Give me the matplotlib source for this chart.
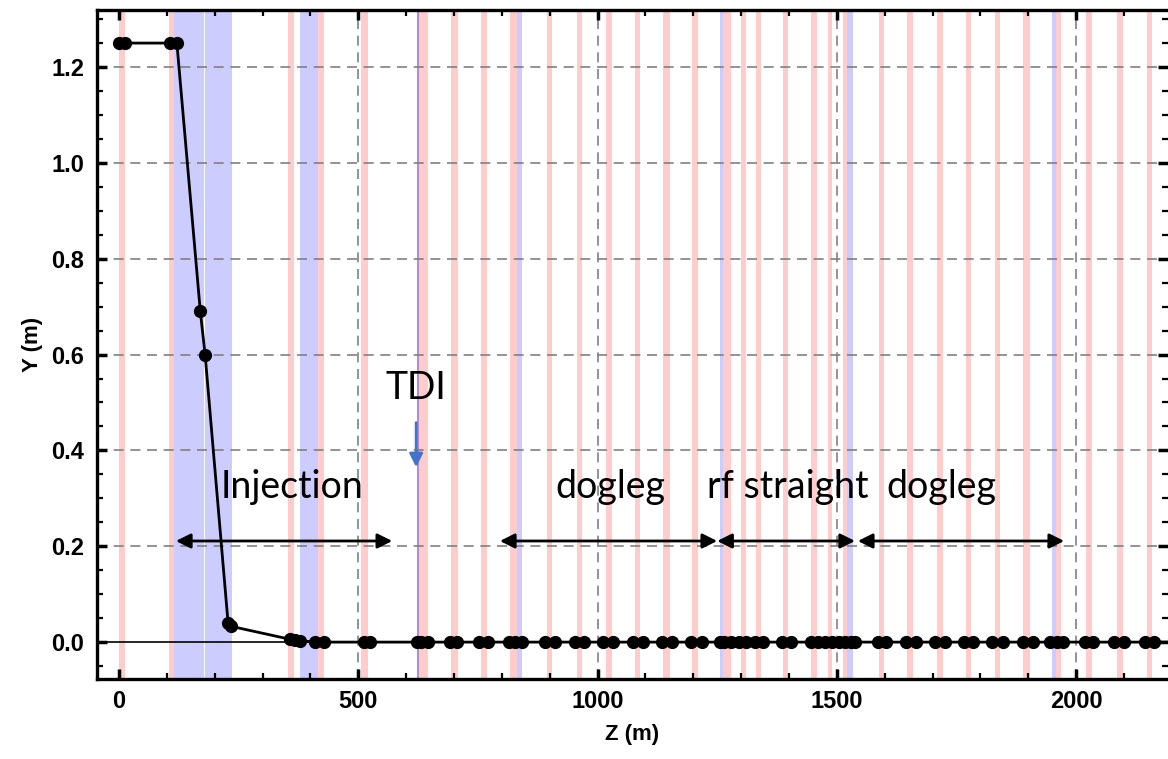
import numpy as np
import matplotlib
matplotlib.use("Agg")
import matplotlib.pyplot as plt
from matplotlib.ticker import MultipleLocator

# beam trajectory: Z (m) and Y (m) of the tracked points
z_pts = [0, 12, 107, 121, 170, 180, 228, 234, 357, 368, 378,
         410, 428, 512, 525, 622, 632, 645, 692, 706, 752, 772,
         815, 828, 842, 890, 912, 952, 972, 1012, 1032, 1075, 1095,
         1135, 1155, 1195, 1218, 1255, 1265, 1278, 1295, 1310,
         1330, 1345, 1385, 1405, 1445, 1460, 1475, 1490, 1505, 1518,
         1530, 1538, 1585, 1602, 1645, 1665, 1705, 1725, 1765, 1785,
         1825, 1848, 1888, 1910, 1945, 1960, 1973, 2018, 2036,
         2080, 2100, 2143, 2163, 2205, 2225]
y_pts = [1.25, 1.25, 1.25, 1.25, 0.69, 0.60, 0.04, 0.033, 0.006, 0.004, 0.003] + \
        [0.0] * 66

# magnet positions (start, end) in Z
red_bands = [(0, 12), (104, 115), (353, 366), (416, 428), (506, 520),
             (627, 645), (694, 708), (757, 769), (817, 832), (894, 905),
             (957, 968), (1018, 1030), (1078, 1089), (1137, 1152),
             (1197, 1210), (1262, 1279), (1300, 1310), (1331, 1342),
             (1388, 1398), (1446, 1459), (1482, 1490), (1513, 1521),
             (1588, 1599), (1647, 1659), (1710, 1722), (1770, 1781),
             (1831, 1841), (1889, 1904), (1958, 1969), (2021, 2033),
             (2086, 2098), (2148, 2159)]
blue_bands = [(115, 177), (180, 236), (378, 416), (832, 842),
              (1256, 1262), (1521, 1534), (1950, 1958)]
tdi_z = 624

# labelled sections: (label, arrow start, arrow end, label centre)
sections = [("Injection", 119, 571, 362),
            ("dogleg", 796, 1250, 1026),
            ("rf straight", 1250, 1538, 1398),
            ("dogleg", 1544, 1975, 1718)]

fig = plt.figure(figsize=(11.68, 7.59), dpi=100)
ax = fig.add_axes([0.083, 0.1054, 0.917, 0.8814])

for a, b in red_bands:
    ax.axvspan(a, b, color="#ffcccc", lw=0, zorder=0)
for a, b in blue_bands:
    ax.axvspan(a, b, color="#ccccff", lw=0, zorder=0)
ax.axvline(tdi_z, color="#b48cd2", lw=1.5, zorder=0.5)

# grid
for gy in np.arange(0.2, 1.21, 0.2):
    ax.axhline(gy, color="#808080", lw=1.2, ls=(0, (6, 4)), zorder=1)
for gx in [500, 1000, 1500, 2000]:
    ax.axvline(gx, color="#808080", lw=1.2, ls=(0, (6, 4)), zorder=1)
ax.axhline(0, color="k", lw=1.2, zorder=2)

ax.plot(z_pts, y_pts, "k-", lw=2.0, marker="o", ms=8.5, zorder=3)

ax.set_xlim(-46, 2192)
ax.set_ylim(-0.077, 1.319)

ax.xaxis.set_major_locator(MultipleLocator(500))
ax.xaxis.set_minor_locator(MultipleLocator(100))
ax.yaxis.set_major_locator(MultipleLocator(0.2))
ax.yaxis.set_minor_locator(MultipleLocator(0.05))
ax.tick_params(which="both", direction="in", top=True, right=True)
ax.tick_params(which="major", length=7, width=2.5)
ax.tick_params(which="minor", length=4, width=1.6)
ax.tick_params(axis="x", pad=8)
ax.tick_params(axis="y", pad=9)
ax.set_yticks(np.arange(0, 1.21, 0.2))
ax.set_yticklabels(["%.1f" % v for v in np.arange(0, 1.21, 0.2)])
for lab in ax.get_xticklabels() + ax.get_yticklabels():
    lab.set_fontfamily("Liberation Sans")
    lab.set_fontweight("bold")
    lab.set_fontsize(17)

for side in ["left", "bottom", "top"]:
    ax.spines[side].set_linewidth(2.4)
ax.spines["right"].set_visible(False)

ax.set_xlabel("Z (m)", fontsize=16, fontweight="bold",
              fontfamily="Liberation Sans", labelpad=8)
ax.set_ylabel("Y (m)", fontsize=16, fontweight="bold",
              fontfamily="Liberation Sans", labelpad=6)

# annotations
txt_font = dict(fontfamily="Lato", fontsize=27, color="k", zorder=5)
for name, z0, z1, zc in sections:
    ax.annotate("", xy=(z1, 0.211), xytext=(z0, 0.211),
                arrowprops=dict(arrowstyle="<|-|>", color="k", lw=2,
                                mutation_scale=22, shrinkA=0, shrinkB=0),
                zorder=5)
    ax.text(zc, 0.324, name, ha="center", va="center", **txt_font)

ax.text(tdi_z - 3, 0.53, "TDI", ha="center", va="center", **txt_font)
ax.annotate("", xy=(tdi_z - 3, 0.365), xytext=(tdi_z - 3, 0.458),
            arrowprops=dict(arrowstyle="-|>", color="#4472c4", lw=2,
                            mutation_scale=20, shrinkA=0, shrinkB=0),
            zorder=5)

fig.savefig("out.png", dpi=100)
